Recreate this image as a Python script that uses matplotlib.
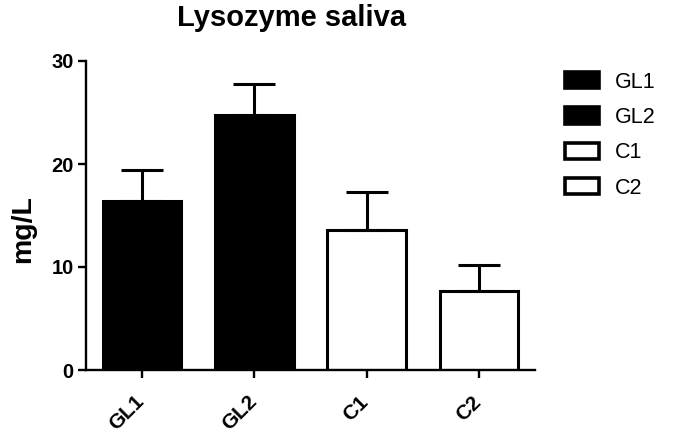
import matplotlib
matplotlib.use("Agg")
import matplotlib.pyplot as plt
from matplotlib.patches import Patch
from matplotlib.transforms import ScaledTranslation

categories = ["GL1", "GL2", "C1", "C2"]
means = [16.4, 24.8, 13.6, 7.7]
errors = [3.0, 3.0, 3.7, 2.5]
filled = [True, True, False, False]
yticks = [0, 10, 20, 30]

plt.rcParams['font.family'] = ['Liberation Sans', 'DejaVu Sans']

W, H = 676, 434
fig = plt.figure(figsize=(W/100, H/100), dpi=100)
ax = fig.add_axes([86/W, 1-370/H, 449/W, 309/H])

x = list(range(len(categories)))
lw = 2.2
for xi, m, e, f in zip(x, means, errors, filled):
    ax.bar(xi, m, width=0.7, color='black' if f else 'white', edgecolor='black',
           linewidth=lw, zorder=2)
    ax.errorbar(xi, m, yerr=[[0], [e]], fmt='none', ecolor='black', elinewidth=lw,
                capsize=15, capthick=lw, zorder=3)

ax.set_xlim(-0.5, 3.5)
ax.set_ylim(0, 30)
ax.set_yticks(yticks)
ax.set_xticks(x)
ax.set_xticklabels(categories, rotation=45, ha='right', va='baseline',
                   rotation_mode='anchor', fontsize=15, fontweight='bold')
ax.tick_params(axis='y', labelsize=14.5, width=1.7, length=6, pad=3)
ax.tick_params(axis='x', width=1.7, length=6, pad=17.5)
shift = ScaledTranslation(3/100, 0, fig.dpi_scale_trans)
for lab in ax.get_xticklabels():
    lab.set_transform(lab.get_transform() + shift)
for lab in ax.get_yticklabels():
    lab.set_fontweight('bold')
for s in ['top', 'right']:
    ax.spines[s].set_visible(False)
for s in ['left', 'bottom']:
    ax.spines[s].set_linewidth(1.7)

fig.text(23/W, 1-229/H, "mg/L", rotation=90, fontsize=20.5, fontweight='bold',
         ha='center', va='center')
fig.text(292/W, 1-26/H, "Lysozyme saliva", fontsize=21, fontweight='bold',
         ha='center', va='baseline')

handles = [Patch(facecolor='black' if f else 'white', edgecolor='black', linewidth=2.6, label=c)
           for c, f in zip(categories, filled)]

leg_fs = 15.5
target_spacing = 35.3   # px between rows
target_top = 72.0       # px from top of image to first patch top
target_left = 565.0

def make_legend(ls, ax_x, ax_y):
    return fig.legend(handles=handles, loc='upper left', bbox_to_anchor=(ax_x, ax_y),
                      frameon=False, fontsize=leg_fs, handlelength=1.6, handleheight=0.8,
                      labelspacing=ls, handletextpad=0.7, borderpad=0, borderaxespad=0)

ls = 0.6
bx, by = target_left/W, 1-target_top/H
leg = make_legend(ls, bx, by)
for _ in range(3):
    fig.canvas.draw()
    r = fig.canvas.get_renderer()
    ext = [p.get_window_extent(r) for p in leg.get_patches()]
    sp = ext[0].y1 - ext[1].y1
    ls += (target_spacing - sp) / (leg_fs * 100/72)
    top_now = H - ext[0].y1
    left_now = ext[0].x0
    by += (top_now - target_top) / H
    bx += (target_left - left_now) / W
    leg.remove()
    leg = make_legend(ls, bx, by)

fig.savefig("out.png", dpi=100)
